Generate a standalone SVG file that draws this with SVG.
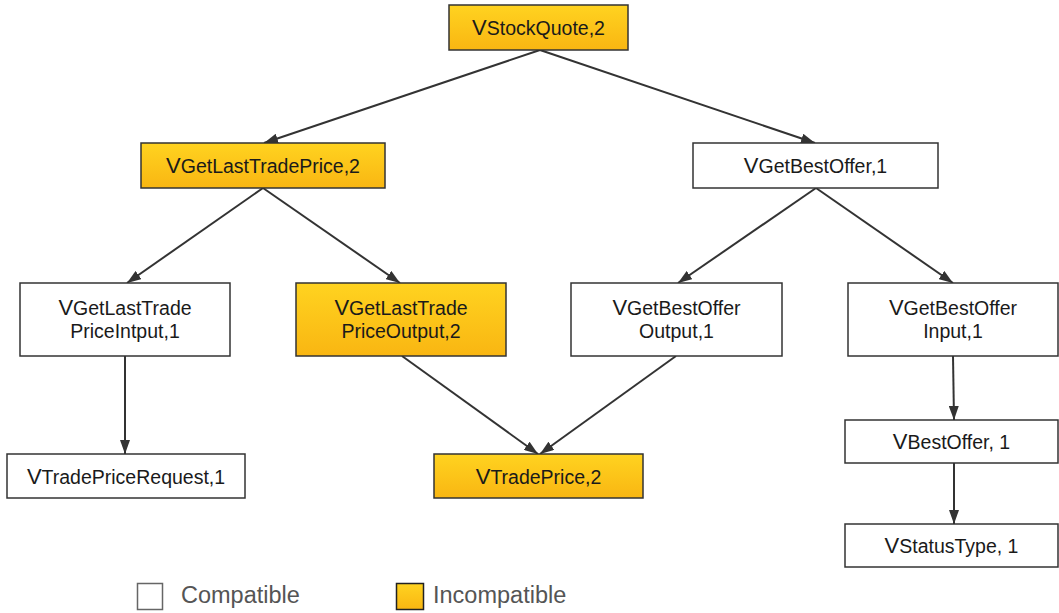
<svg xmlns="http://www.w3.org/2000/svg" width="1059" height="613" viewBox="0 0 1059 613">
  <defs>
    <linearGradient id="gold" x1="0" y1="0" x2="0" y2="1">
      <stop offset="0" stop-color="#ffd320"/>
      <stop offset="1" stop-color="#f9b612"/>
    </linearGradient>
    <marker id="arrow" viewBox="0 0 14 10" refX="14" refY="5" markerWidth="14" markerHeight="10" markerUnits="userSpaceOnUse" orient="auto">
      <path d="M0,0 L14,5 L0,10 Z" fill="#333"/>
    </marker>
  </defs>
  <style>
    .box { stroke: #333; stroke-width: 1.5; }
    .ok { fill: #fff; }
    .bad { fill: url(#gold); }
    .lbl { font-family: "Liberation Sans", Arial, sans-serif; font-size: 19.5px; fill: #1a1a1a; text-anchor: middle; }
    .big { font-size: 22px; }
    .edge { stroke: #333; stroke-width: 2; fill: none; marker-end: url(#arrow); }
    .legend { font-family: "Liberation Sans", Arial, sans-serif; font-size: 23.5px; fill: #555; }
  </style>

  <rect width="1059" height="613" fill="#fff"/>

  <g id="connectors">
    <line class="edge" x1="540" y1="50" x2="264" y2="143"/>
    <line class="edge" x1="540" y1="50" x2="815" y2="143"/>
    <line class="edge" x1="263" y1="188" x2="127" y2="283"/>
    <line class="edge" x1="263" y1="188" x2="400" y2="283"/>
    <line class="edge" x1="816" y1="188" x2="678" y2="283"/>
    <line class="edge" x1="816" y1="188" x2="953" y2="283"/>
    <line class="edge" x1="125" y1="356" x2="125" y2="454"/>
    <line class="edge" x1="402" y1="356" x2="538" y2="454"/>
    <line class="edge" x1="676" y1="356" x2="540" y2="454"/>
    <line class="edge" x1="953" y1="356" x2="954" y2="420"/>
    <line class="edge" x1="954" y1="463" x2="954" y2="524"/>
  </g>

  <g id="n-stockquote">
    <rect class="box bad" x="449" y="5" width="179" height="45"/>
    <text class="lbl" x="538.5" y="35"><tspan class="big">V</tspan>StockQuote,2</text>
  </g>

  <g id="n-getlasttradeprice">
    <rect class="box bad" x="141" y="143" width="244" height="45"/>
    <text class="lbl" x="263" y="173"><tspan class="big">V</tspan>GetLastTradePrice,2</text>
  </g>

  <g id="n-getbestoffer">
    <rect class="box ok" x="693" y="143" width="245" height="45"/>
    <text class="lbl" x="815.5" y="173"><tspan class="big">V</tspan>GetBestOffer,1</text>
  </g>

  <g id="n-pricein">
    <rect class="box ok" x="20" y="283" width="210" height="73"/>
    <text class="lbl" x="125" y="315"><tspan class="big">V</tspan>GetLastTrade</text>
    <text class="lbl" x="125" y="338">PriceIntput,1</text>
  </g>

  <g id="n-priceout">
    <rect class="box bad" x="296" y="283" width="210" height="73"/>
    <text class="lbl" x="401" y="315"><tspan class="big">V</tspan>GetLastTrade</text>
    <text class="lbl" x="401" y="338">PriceOutput,2</text>
  </g>

  <g id="n-offerout">
    <rect class="box ok" x="571" y="283" width="211" height="73"/>
    <text class="lbl" x="676.5" y="315"><tspan class="big">V</tspan>GetBestOffer</text>
    <text class="lbl" x="676.5" y="338">Output,1</text>
  </g>

  <g id="n-offerin">
    <rect class="box ok" x="848" y="283" width="210" height="73"/>
    <text class="lbl" x="953" y="315"><tspan class="big">V</tspan>GetBestOffer</text>
    <text class="lbl" x="953" y="338">Input,1</text>
  </g>

  <g id="n-request">
    <rect class="box ok" x="7" y="454" width="238" height="44"/>
    <text class="lbl" x="126" y="484"><tspan class="big">V</tspan>TradePriceRequest,1</text>
  </g>

  <g id="n-tradeprice">
    <rect class="box bad" x="434" y="454" width="209" height="44"/>
    <text class="lbl" x="538.5" y="484"><tspan class="big">V</tspan>TradePrice,2</text>
  </g>

  <g id="n-bestoffer">
    <rect class="box ok" x="845" y="420" width="213" height="43"/>
    <text class="lbl" x="951.5" y="449"><tspan class="big">V</tspan>BestOffer, 1</text>
  </g>

  <g id="n-statustype">
    <rect class="box ok" x="845" y="524" width="213" height="43"/>
    <text class="lbl" x="951.5" y="553"><tspan class="big">V</tspan>StatusType, 1</text>
  </g>

  <g id="legend">
    <rect x="137.5" y="583.5" width="25" height="26" fill="#fff" stroke="#666" stroke-width="1.5"/>
    <text class="legend" x="181" y="603">Compatible</text>
    <rect x="396.5" y="583.5" width="27" height="26" fill="url(#gold)" stroke="#222" stroke-width="1.5"/>
    <text class="legend" x="433" y="603">Incompatible</text>
  </g>
</svg>
